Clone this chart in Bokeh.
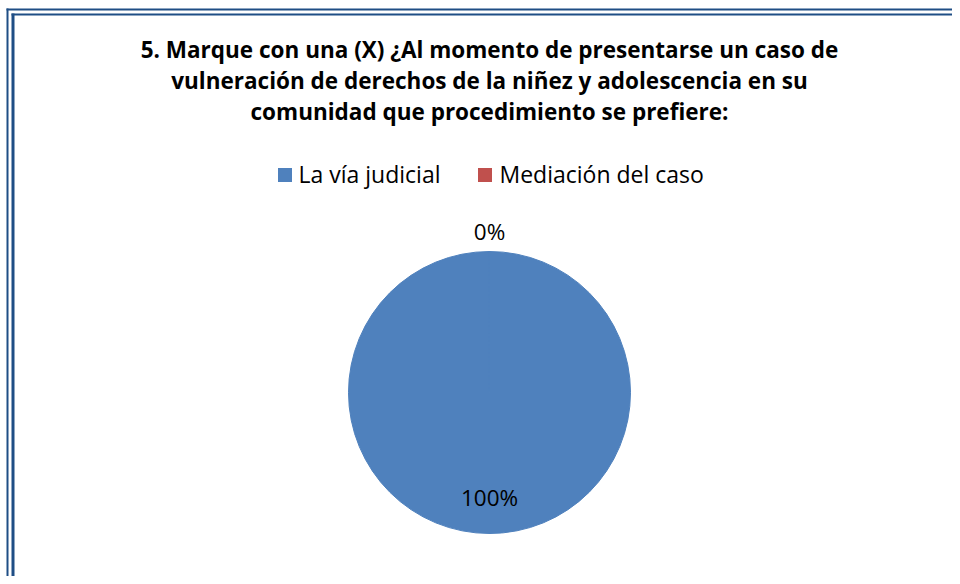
import math
from bokeh.plotting import figure
from bokeh.models import Range1d, ColumnDataSource
from bokeh.core.properties import value
from bokeh.embed import file_html
from bokeh.resources import INLINE

# ---- data ----
title_lines = [
    "5. Marque con una (X) ¿Al momento de presentarse un caso de",
    "vulneración de derechos de la niñez y adolescencia en su",
    "comunidad que procedimiento se prefiere:",
]
categories = ["La vía judicial", "Mediación del caso"]
shares = [100, 0]
colors = ["#4F81BD", "#C0504D"]

# ---- layout helpers (picture pixel -> data coords) ----
W, H = 952, 576
def X(px):
    return px
def Y(py):
    return H - py
def YB(py, size):
    # alphabetic baseline correction for svg text
    return H - (py - 0.38 * size)

p = figure(width=W, height=H, x_range=Range1d(0, W), y_range=Range1d(0, H),
           output_backend="svg", toolbar_location=None, min_border=0)
p.axis.visible = False
p.grid.visible = False
p.outline_line_color = None
p.background_fill_color = "white"
p.border_fill_color = "white"

# ---- frame (double border) ----
dark = "#1F4E85"
p.quad(left=[X(6), X(11)], right=[X(8), X(14)], bottom=[Y(576), Y(576)], top=[Y(8), Y(13)],
       fill_color=dark, line_color=None)
p.quad(left=[X(6), X(11)], right=[X(W), X(W)], bottom=[Y(10), Y(15)], top=[Y(8), Y(13)],
       fill_color=dark, line_color=None)

# ---- title ----
font = value("Open Sans")
ts = 22.5
title_y = [58, 89, 120]
p.text(x=[X(489)] * 3, y=[YB(v, ts) for v in title_y], text=title_lines,
       text_font=font, text_font_style="bold", text_font_size=f"{ts}px",
       text_align="center", text_baseline="alphabetic", text_color="#000000")

# ---- pie ----
cx, cy, r = 489, 392, 141
total = float(sum(shares))
mids = []
wx, wy, ws, we, wc = [], [], [], [], []
cum = 0.0
for s, c in zip(shares, colors):
    a0 = math.pi / 2 - 2 * math.pi * cum / total
    cum += s
    a1 = math.pi / 2 - 2 * math.pi * cum / total
    mids.append((a0 + a1) / 2)
    if s > 0:
        n = max(1, math.ceil((a0 - a1) / math.pi - 1e-9))
        step = (a0 - a1) / n
        for k in range(n):
            wx.append(X(cx)); wy.append(Y(cy))
            ws.append(a1 + k * step); we.append(a1 + (k + 1) * step + 0.002)
            wc.append(c)

src = ColumnDataSource(dict(x=wx, y=wy, start=ws, end=we, color=wc))
p.wedge(x="x", y="y", radius=r, radius_units="screen", start_angle="start", end_angle="end",
        fill_color="color", line_color="color", line_width=1, source=src)

ls = 22.5
lx, ly, lt = [], [], []
for s, m in zip(shares, mids):
    rr = 0.76 * r if s / total > 0.1 else 1.13 * r
    px = cx + rr * math.cos(m)
    py = cy - rr * math.sin(m)
    lx.append(X(px))
    ly.append(YB(py + 6.5, ls))
    lt.append(f"{s / total * 100:.0f}%")
p.text(x=lx, y=ly, text=lt, text_font=font, text_font_size=f"{ls}px",
       text_align="center", text_baseline="alphabetic", text_color="#000000")

# ---- legend ----
gs = 23
sq_x = [284.5, 484.5]
tx = [298, 499]
p.scatter(x=[X(v) for v in sq_x], y=[Y(174.5)] * 2, marker="square", size=14,
          fill_color=colors, line_color=None)
p.text(x=[X(v) for v in tx], y=[YB(182, gs)] * 2, text=categories, text_font=font,
       text_font_size=f"{gs}px", text_align="left", text_baseline="alphabetic", text_color="#000000")

open("out.html", "w").write(file_html(p, INLINE))
